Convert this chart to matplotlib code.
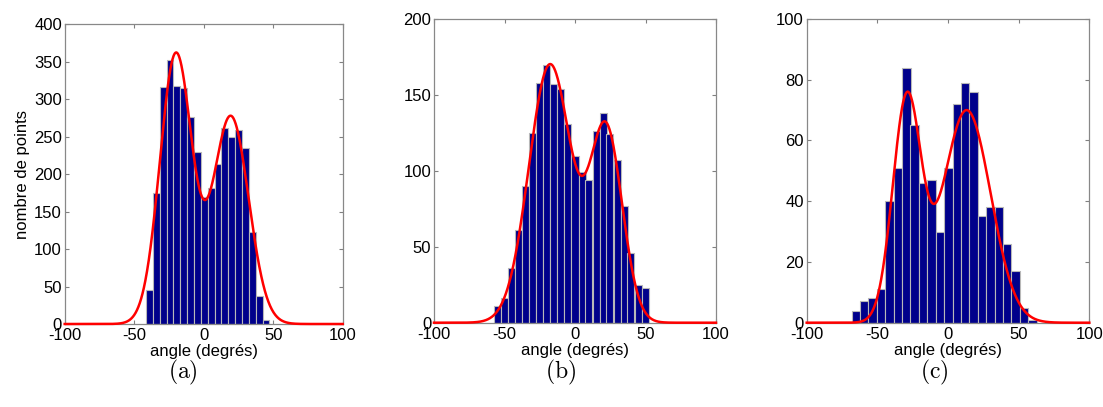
import numpy as np
import matplotlib.pyplot as plt

# histogram bins (centers) and counts
centers_a = [-39.0, -34.1, -29.1, -24.2, -19.3, -14.4, -9.4, -4.5, 0.4, 5.4,
             10.3, 15.2, 20.2, 25.1, 30.0, 34.9, 39.9, 44.8]
counts_a = [45, 175, 316, 352, 318, 315, 276, 230, 169, 182, 213, 262, 250, 259,
            235, 123, 38, 5]

centers_b = [-54.7, -49.7, -44.8, -39.8, -34.8, -29.9, -24.9, -19.9, -14.9, -10.0,
             -5.0, 0.0, 5.0, 9.9, 14.9, 19.9, 24.8, 29.8, 34.8, 39.7, 44.7, 49.7]
counts_b = [11, 16, 36, 61, 90, 125, 158, 170, 157, 154, 131, 110, 99, 94, 126,
            138, 124, 107, 77, 46, 25, 23]

centers_c = [-65.2, -59.3, -53.3, -47.4, -41.4, -35.5, -29.5, -23.6, -17.6, -11.7,
             -5.7, 0.3, 6.2, 12.2, 18.1, 24.1, 30.0, 36.0, 41.9, 47.9, 53.8, 59.8]
counts_c = [4, 7, 8, 11, 40, 51, 84, 65, 46, 47, 30, 51, 72, 79, 76, 35, 38, 38,
            26, 17, 5, 1]

# two-gaussian fits (mean, sigma, amplitude)
means_a, sigmas_a, amps_a = [-20.0, 19.5], [11.5, 12.8], [360, 277]
means_b, sigmas_b, amps_b = [-17.7, 22.0], [15.0, 11.5], [170, 127]
means_c, sigmas_c, amps_c = [-29.2, 13.2], [10.0, 17.0], [72.8, 70]

widths = [4.93, 4.97, 5.95]
ymax = [400, 200, 100]
ystep = [50, 50, 20]
captions = ['(a)', '(b)', '(c)']

plt.rcParams['font.family'] = ['Liberation Sans', 'DejaVu Sans']
plt.rcParams['mathtext.fontset'] = 'cm'
plt.rcParams['axes.unicode_minus'] = False

fig = plt.figure(figsize=(11.03, 4.07), dpi=100)
W, H = 1103, 407
boxes = [(64.7, 24.3, 342.7, 324.0), (434.0, 19.0, 716.0, 322.7),
         (806.7, 19.0, 1089.3, 322.7)]
cap_x = [183, 561, 934]

data = [(centers_a, counts_a, means_a, sigmas_a, amps_a),
        (centers_b, counts_b, means_b, sigmas_b, amps_b),
        (centers_c, counts_c, means_c, sigmas_c, amps_c)]

xs = np.linspace(-100, 100, 801)
for i, (cen, cnt, mu, sg, am) in enumerate(data):
    x0, y0, x1, y1 = boxes[i]
    ax = fig.add_axes([x0 / W, (H - y1) / H, (x1 - x0) / W, (y1 - y0) / H])
    ax.bar(cen, cnt, width=widths[i], color='#00008b', edgecolor='#b8b8b8',
           linewidth=0.8, zorder=2)
    fit = np.zeros_like(xs)
    for m, s, a in zip(mu, sg, am):
        fit += a * np.exp(-(xs - m) ** 2 / (2 * s ** 2))
    ax.plot(xs, fit, color='red', lw=1.8, zorder=3, clip_on=False)
    ax.set_xlim(-100, 100)
    ax.set_ylim(0, ymax[i])
    ax.set_xticks([-100, -50, 0, 50, 100])
    ax.set_yticks(np.arange(0, ymax[i] + 1, ystep[i]))
    ax.tick_params(direction='in', length=3, width=0.8, color='#808080',
                   labelsize=12, top=True, right=True)
    ax.tick_params(axis='x', pad=3)
    ax.tick_params(axis='y', pad=2)
    for sp in ax.spines.values():
        sp.set_color('#888888')
        sp.set_linewidth(0.9)
    ax.set_xlabel('angle (degrés)', fontsize=12, labelpad=0.5)
    if i == 0:
        ax.set_ylabel('nombre de points', fontsize=12, labelpad=3)
    fig.text(cap_x[i] / W, 0.085, r'$\mathrm{' + captions[i] + '}$',
             fontsize=17, ha='center', va='center')

fig.savefig('out.png', dpi=100)
